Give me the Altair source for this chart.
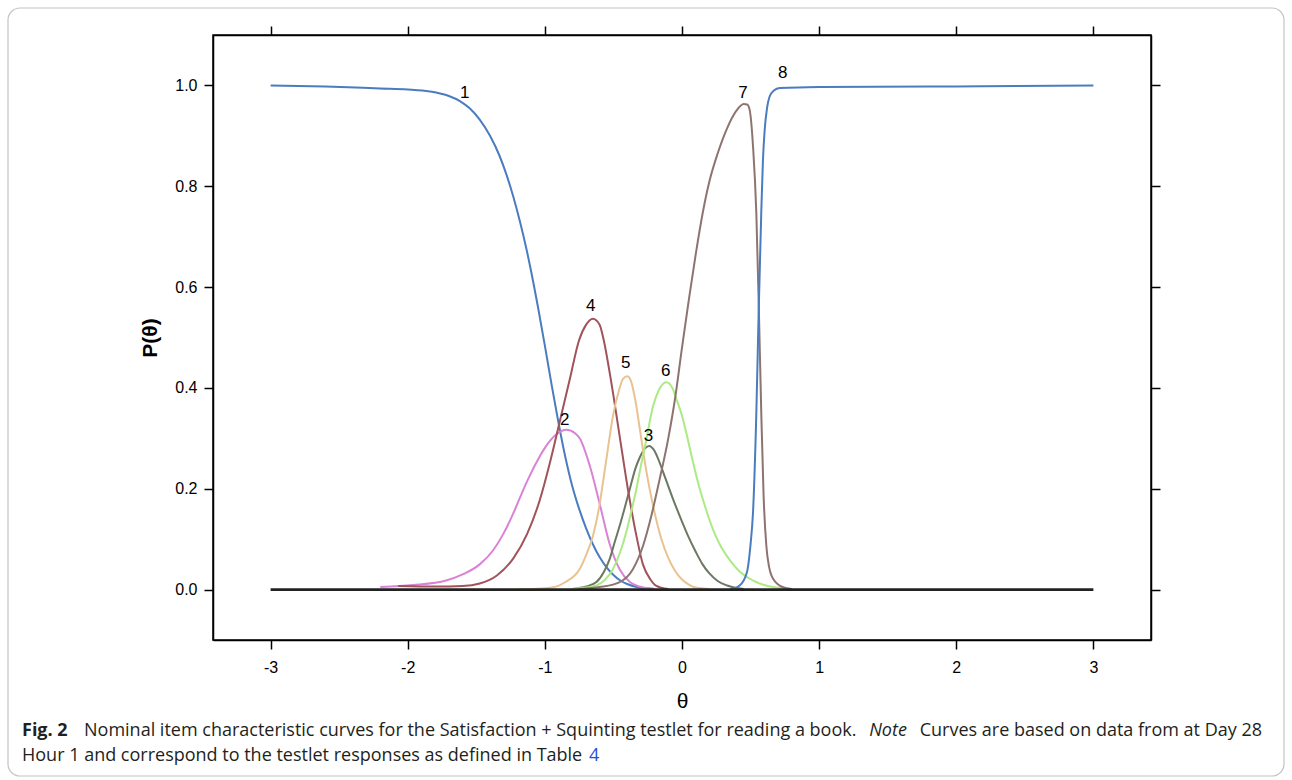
import altair as alt
import pandas as pd

# ---------------- data ----------------
x_ticks = [-3, -2, -1, 0, 1, 2, 3]
y_ticks = [0.0, 0.2, 0.4, 0.6, 0.8, 1.0]

c1_x = [-3.0, -2.6, -2.2, -2.0, -1.84, -1.70, -1.62, -1.55, -1.475, -1.40, -1.33, -1.28, -1.23, -1.18,
        -1.134, -1.10, -1.05, -1.00, -0.95, -0.90, -0.85, -0.80, -0.75, -0.70, -0.65, -0.60, -0.55,
        -0.50, -0.45, -0.40, -0.33, -0.20]
c1_y = [1.0, 0.998, 0.994, 0.992, 0.988, 0.979, 0.969, 0.955, 0.932, 0.900, 0.860, 0.823, 0.779, 0.728,
        0.675, 0.631, 0.560, 0.484, 0.405, 0.33, 0.262, 0.205, 0.16, 0.122, 0.09, 0.064, 0.044,
        0.029, 0.018, 0.011, 0.005, 0.001]

c2_x = [-2.2, -1.96, -1.72, -1.6, -1.475, -1.377, -1.30, -1.232, -1.17, -1.11, -1.05, -0.99, -0.92,
        -0.843, -0.78, -0.746, -0.673, -0.60, -0.527, -0.454, -0.38, -0.31, -0.20]
c2_y = [0.005, 0.009, 0.018, 0.03, 0.05, 0.078, 0.112, 0.15, 0.19, 0.226, 0.258, 0.285, 0.307,
        0.317, 0.31, 0.30, 0.246, 0.17, 0.09, 0.04, 0.015, 0.006, 0.001]

c3_x = [-0.8, -0.7, -0.624, -0.57, -0.527, -0.49, -0.454, -0.42, -0.381, -0.34, -0.308, -0.27, -0.24,
        -0.20, -0.163, -0.12, -0.066, 0.0, 0.05, 0.10, 0.15, 0.20, 0.26, 0.33, 0.45]
c3_y = [0.001, 0.006, 0.015, 0.035, 0.061, 0.095, 0.127, 0.16, 0.199, 0.24, 0.262, 0.28, 0.285,
        0.275, 0.252, 0.22, 0.18, 0.135, 0.103, 0.075, 0.05, 0.032, 0.017, 0.008, 0.001]

c4_x = [-2.07, -1.8, -1.6, -1.475, -1.35, -1.23, -1.13, -1.04, -0.96, -0.89, -0.82, -0.75, -0.70, -0.65,
        -0.60, -0.575, -0.515, -0.455, -0.395, -0.335, -0.285, -0.23, -0.19, -0.10]
c4_y = [0.007, 0.006, 0.007, 0.012, 0.028, 0.062, 0.11, 0.175, 0.255, 0.335, 0.415, 0.495, 0.525, 0.537,
        0.525, 0.50, 0.41, 0.305, 0.20, 0.11, 0.05, 0.02, 0.008, 0.001]

c5_x = [-1.2, -0.95, -0.85, -0.746, -0.70, -0.649, -0.60, -0.576, -0.54, -0.503, -0.46, -0.43, -0.398,
        -0.37, -0.34, -0.30, -0.26, -0.21, -0.15, -0.10, -0.05, 0.0, 0.05, 0.10, 0.20]
c5_y = [0.0, 0.004, 0.015, 0.041, 0.068, 0.107, 0.17, 0.213, 0.28, 0.345, 0.395, 0.418, 0.423,
        0.412, 0.375, 0.305, 0.235, 0.165, 0.10, 0.063, 0.037, 0.02, 0.01, 0.004, 0.001]

c6_x = [-0.8, -0.7, -0.624, -0.56, -0.503, -0.45, -0.406, -0.37, -0.333, -0.30, -0.26, -0.211, -0.17,
        -0.114, -0.07, -0.041, 0.0, 0.032, 0.07, 0.105, 0.14, 0.18, 0.225, 0.275, 0.35, 0.42, 0.48,
        0.54, 0.60, 0.663, 0.80]
c6_y = [0.001, 0.004, 0.008, 0.02, 0.041, 0.075, 0.114, 0.155, 0.199, 0.245, 0.298, 0.364, 0.395,
        0.411, 0.40, 0.378, 0.345, 0.31, 0.265, 0.225, 0.19, 0.155, 0.12, 0.09, 0.058, 0.036, 0.024,
        0.015, 0.009, 0.005, 0.001]

c7_x = [-0.75, -0.6, -0.454, -0.357, -0.284, -0.223, -0.163, -0.10, -0.05, 0.0, 0.05, 0.10,
        0.153, 0.20, 0.26, 0.324, 0.397, 0.45, 0.475, 0.493, 0.518, 0.542, 0.561, 0.578, 0.595,
        0.615, 0.635, 0.652, 0.712, 0.80]
c7_y = [0.001, 0.005, 0.015, 0.041, 0.087, 0.147, 0.219, 0.30, 0.38, 0.48, 0.575, 0.665,
        0.75, 0.81, 0.865, 0.912, 0.95, 0.963, 0.962, 0.952, 0.879, 0.747, 0.549, 0.351, 0.186,
        0.087, 0.045, 0.028, 0.008, 0.001]

c8_x = [0.35, 0.42, 0.474, 0.50, 0.518, 0.542, 0.559, 0.578, 0.59, 0.603, 0.62, 0.639, 0.67, 0.712,
        1.0, 2.0, 3.0]
c8_y = [0.0, 0.008, 0.035, 0.09, 0.154, 0.35, 0.55, 0.748, 0.85, 0.912, 0.955, 0.978, 0.99, 0.995,
        0.997, 0.998, 1.0]

curve_names = ["1", "2", "3", "4", "5", "6", "7", "8"]
curve_colors = ["#4a7cc0", "#d982d6", "#6b7862", "#a0535a", "#e8c391", "#acea84", "#8e7470", "#4a7cc0"]

base_x = [-3, 3]
base_y = [0, 0]

label_text = ["1", "2", "3", "4", "5", "6", "7", "8"]
label_x = [-1.585, -0.856, -0.245, -0.666, -0.411, -0.119, 0.445, 0.734]
label_y = [0.985, 0.336, 0.305, 0.562, 0.449, 0.433, 0.985, 1.025]

# ---------------- build tables ----------------
xs_all = [c1_x, c2_x, c3_x, c4_x, c5_x, c6_x, c7_x, c8_x]
ys_all = [c1_y, c2_y, c3_y, c4_y, c5_y, c6_y, c7_y, c8_y]
rows = []
for name, xs, ys in zip(curve_names, xs_all, ys_all):
    for i, (a, b) in enumerate(zip(xs, ys)):
        rows.append({"curve": name, "theta": a, "p": b, "i": i})
df = pd.DataFrame(rows)
df_base = pd.DataFrame({"theta": base_x, "p": base_y})
df_lab = pd.DataFrame({"t": label_text, "theta": label_x, "p": label_y})

FONT = "Liberation Sans"
W, H = 938, 605
OX, OY = 213, 35

xscale = alt.Scale(domain=[-3.42, 3.42], nice=False, zero=False)
yscale = alt.Scale(domain=[-0.1, 1.1], nice=False, zero=False)

x_axis = alt.Axis(values=x_ticks, labelExpr="'' + datum.value", title="θ", tickSize=9,
                  tickColor="black", tickWidth=1.5, domainColor="black", domainWidth=1.5,
                  labelFontSize=16, labelFont=FONT, labelColor="black", labelPadding=10,
                  titleFont=FONT, titleFontSize=21, titleFontWeight="normal", titleColor="black",
                  titlePadding=15, grid=False)
y_axis = alt.Axis(values=y_ticks, format=".1f", title="P(θ)", tickSize=9, tickColor="black",
                  tickWidth=1.5, domainColor="black", domainWidth=1.5, labelFontSize=16,
                  labelFont=FONT, labelColor="black", labelPadding=7, titleFont=FONT,
                  titleFontSize=21, titleFontWeight="bold", titleColor="black", titlePadding=14,
                  grid=False)

lines = alt.Chart(df).mark_line(strokeWidth=2, interpolate="monotone").encode(
    x=alt.X("theta:Q", scale=xscale, axis=x_axis),
    y=alt.Y("p:Q", scale=yscale, axis=y_axis),
    color=alt.Color("curve:N", scale=alt.Scale(domain=curve_names, range=curve_colors), legend=None),
    detail="curve:N",
    order="i:Q",
)

x_axis2 = alt.Axis(values=x_ticks, orient="top", labels=False, title=None, tickSize=9,
                   tickColor="black", tickWidth=1.5, domainColor="black", domainWidth=1.5, grid=False)
y_axis2 = alt.Axis(values=y_ticks, orient="right", labels=False, title=None, tickSize=9,
                   tickColor="black", tickWidth=1.5, domainColor="black", domainWidth=1.5, grid=False)

base = alt.Chart(df_base).mark_line(color="#222222", strokeWidth=2.6).encode(
    x=alt.X("theta:Q", scale=xscale, axis=x_axis2),
    y=alt.Y("p:Q", scale=yscale, axis=y_axis2),
)

labels = alt.Chart(df_lab).mark_text(font=FONT, fontSize=17, color="black").encode(
    x=alt.X("theta:Q", scale=xscale, axis=None),
    y=alt.Y("p:Q", scale=yscale, axis=None),
    text="t:N",
)

one = pd.DataFrame({"a": [0]})
frame = alt.Chart(one).mark_rect(fill=None, stroke="#c4c4c4", strokeWidth=1.2, cornerRadius=12).encode(
    x=alt.value(8 - OX), x2=alt.value(1284 - OX), y=alt.value(8 - OY), y2=alt.value(776 - OY)
)

CAP = "Open Sans"
CS = 18
def cap(text, px, py, weight="normal", style="normal", color="#231f20", size=CS, align="left"):
    return alt.Chart(one).mark_text(text=text, font=CAP, fontSize=size, fontWeight=weight,
                                    fontStyle=style, color=color, align=align,
                                    baseline="middle").encode(
        x=alt.value(px - OX), y=alt.value(py - OY))

caption = [
    cap("Fig. 2", 22, 731, weight="bold"),
    cap("Nominal item characteristic curves for the Satisfaction + Squinting testlet for reading a book.", 84, 731),
    cap("Note", 888, 731, style="italic", align="center"),
    cap("Curves are based on data from at Day 28", 1262, 731, align="right"),
    cap("Hour 1 and correspond to the testlet responses as defined in Table", 22, 756),
    cap("4", 589, 756, color="#2a4fd6"),
]

chart = alt.layer(frame, lines, base, labels, *caption).resolve_axis(
    x="independent", y="independent"
).properties(
    width=W, height=H,
    autosize=alt.AutoSizeParams(type="none"),
    padding={"left": OX, "top": OY, "right": 1292 - OX - W, "bottom": 780 - OY - H},
    background="white",
).configure_view(stroke="black", strokeWidth=1.5)

chart.save("out.html", embed_options={"renderer": "svg", "actions": False})
